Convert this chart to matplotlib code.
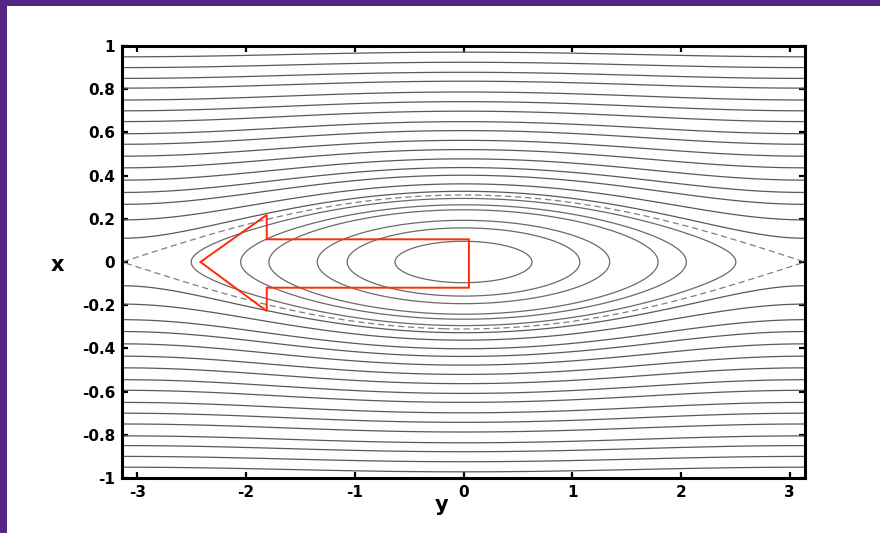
import numpy as np
import matplotlib.pyplot as plt
from matplotlib.patches import Rectangle, Polygon

# tick marks on both axes
y_ticks = [-3, -2, -1, 0, 1, 2, 3]
x_ticks = [-1, -0.8, -0.6, -0.4, -0.2, 0, 0.2, 0.4, 0.6, 0.8, 1]

# half width of the island (separatrix) at y = 0
island_halfwidth = 0.31

# |y| where each closed surface crosses x = 0
closed_crossings = [0.63, 1.07, 1.345, 1.79, 2.05, 2.505]

# |x| of each open surface at y = +-pi
open_edge_x = [0.11, 0.195, 0.267, 0.322, 0.379, 0.436, 0.49, 0.545,
               0.594, 0.65, 0.70, 0.75, 0.805, 0.85, 0.90, 0.95]

# red arrow outline, (y, x) corners
arrow_y = [-2.42, -1.81, -1.81, 0.05, 0.05, -1.81, -1.81]
arrow_x = [0.0, 0.218, 0.105, 0.105, -0.119, -0.119, -0.227]

# flux function psi = x^2 - a (1 + cos y) exp(-x^2), separatrix at psi = 0
w2 = island_halfwidth**2
a = w2 / (2 * np.exp(-w2))
yy = np.linspace(-np.pi, np.pi, 900)
xx = np.linspace(-1, 1, 600)
Y, X = np.meshgrid(yy, xx)
psi = X**2 - a * (1 + np.cos(Y)) * np.exp(-X**2)

closed_levels = sorted(-a * (1 + np.cos(c)) for c in closed_crossings)
open_levels = sorted(v**2 for v in open_edge_x)

fig = plt.figure(figsize=(8.8, 5.33), dpi=100, facecolor='#552586')
fig.add_artist(Rectangle((7/880, 0), 1, 527/533, transform=fig.transFigure,
                         facecolor='white', edgecolor='none', zorder=0))

ax = fig.add_axes([122/880, 1 - 478/533, 683/880, 432/533])
ax.set_facecolor('white')

line_col = '#5a5a5a'
ax.contour(Y, X, psi, levels=closed_levels, colors='#6a6a6a', linewidths=0.9,
           negative_linestyles='solid')
ax.contour(Y, X, psi, levels=open_levels, colors=line_col, linewidths=0.9)
sep = ax.contour(Y, X, psi, levels=[0], colors='#808080', linewidths=0.9)
sep.set_linestyle((0, (5, 3)))

ax.add_patch(Polygon(np.column_stack([arrow_y, arrow_x]), closed=True,
                     fill=False, edgecolor='#ff2a0a', linewidth=1.4, zorder=5))

ax.set_xlim(-np.pi, np.pi)
ax.set_ylim(-1, 1)

tick_font = dict(family='DejaVu Sans', weight='bold', size=11)
ax.set_xticks(y_ticks)
ax.set_xticklabels([f'{v:g}' for v in y_ticks], **tick_font)
ax.set_yticks(x_ticks)
ax.set_yticklabels([f'{v:g}' for v in x_ticks], **tick_font)
ax.tick_params(direction='in', length=4, width=1.6, top=True, right=True,
               pad=5, colors='black')
for s in ax.spines.values():
    s.set_linewidth(2.2)

ax.set_ylabel('x', rotation=0, family='DejaVu Sans', weight='bold', size=15,
              ha='center', va='center')
ax.yaxis.set_label_coords(-0.094, 0.493)
ax.set_xlabel('y', family='DejaVu Sans', weight='bold', size=15,
              ha='center', va='center')
ax.xaxis.set_label_coords(0.4685, -0.0625)

fig.savefig('out.png', dpi=100, facecolor=fig.get_facecolor())
